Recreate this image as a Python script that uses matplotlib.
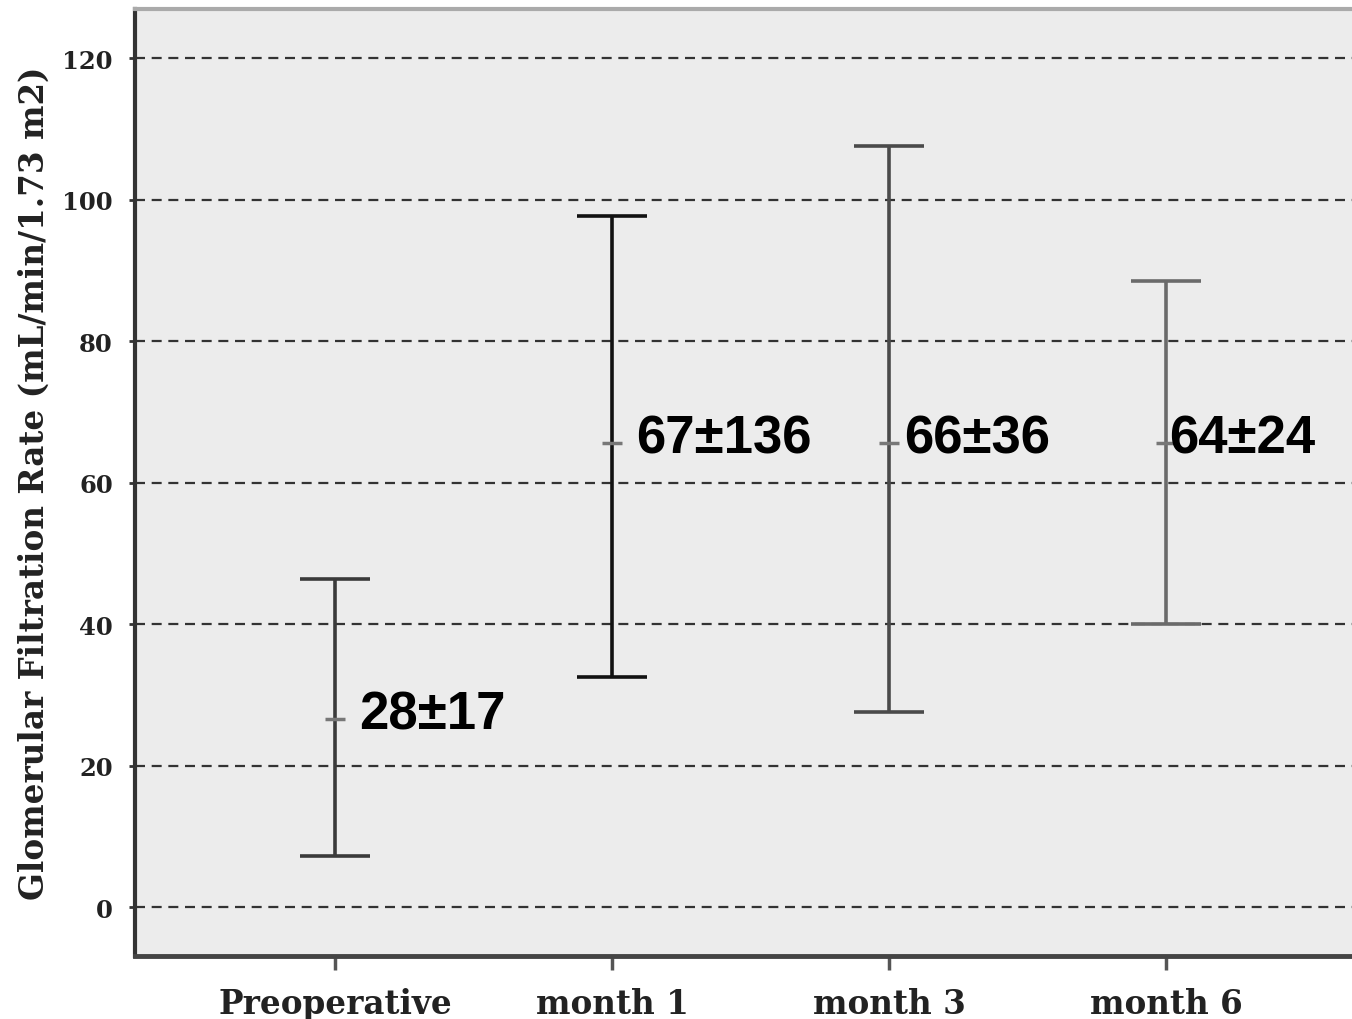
import matplotlib
matplotlib.use("Agg")
import matplotlib.pyplot as plt

# values
groups = ["Preoperative", "month 1", "month 3", "month 6"]
means = [26.6, 65.6, 65.6, 65.6]
lower = [7.2, 32.5, 27.6, 40.0]
upper = [46.4, 97.7, 107.5, 88.5]
labels = ["28\u00b117", "67\u00b1136", "66\u00b136", "64\u00b124"]
bar_colors = ["#3a3a3a", "#111111", "#4a4a4a", "#6a6a6a"]
label_dx = [17, 17, 11, 2]  # points right of the bar
yticks = [0, 20, 40, 60, 80, 100, 120]

fig = plt.figure(figsize=(13.52, 10.2), dpi=100)
ax = fig.add_axes([0.0999, 0.0618, 0.9001, 0.9282])
ax.set_facecolor("#ececec")

for i in range(len(groups)):
    ax.errorbar(i, means[i],
                yerr=[[means[i] - lower[i]], [upper[i] - means[i]]],
                fmt="none", ecolor=bar_colors[i], elinewidth=2.6,
                capsize=25, capthick=2.6, zorder=3)
    ax.plot(i, means[i], marker="_", markersize=14, mew=2.5,
            color="#777777", zorder=4)
    ax.annotate(labels[i], xy=(i, means[i]), xytext=(label_dx[i], 3),
                textcoords="offset points", ha="left", va="center",
                fontsize=38, fontweight="bold",
                family=["Liberation Sans", "DejaVu Sans"], color="black",
                zorder=5)

ax.set_xlim(-0.722, 3.671)
ax.set_ylim(-6.9, 126.9)
ax.set_xticks(range(len(groups)))
ax.set_xticklabels(groups)
ax.set_yticks(yticks)

ax.yaxis.grid(True, color="#333333", linewidth=1.6, linestyle=(0, (4.5, 3)))
ax.set_axisbelow(True)

for lab in ax.get_xticklabels():
    lab.set_fontfamily("DejaVu Serif")
    lab.set_fontweight("bold")
    lab.set_fontsize(23.5)
    lab.set_color("#222222")
for lab in ax.get_yticklabels():
    lab.set_fontfamily("DejaVu Serif")
    lab.set_fontweight("bold")
    lab.set_fontsize(17.5)
    lab.set_color("#222222")

ax.tick_params(axis="x", direction="out", length=10, width=2.5,
               color="#555555", pad=12)
ax.tick_params(axis="y", direction="out", length=4, width=2,
               color="#333333", pad=12)

ax.set_ylabel("Glomerular Filtration Rate (mL/min/1.73 m2)",
              fontfamily="DejaVu Serif", fontweight="bold",
              fontsize=23.5, color="#222222", labelpad=8)

ax.spines["right"].set_visible(False)
ax.spines["top"].set_color("#aaaaaa")
ax.spines["top"].set_linewidth(3)
ax.spines["left"].set_color("#333333")
ax.spines["left"].set_linewidth(3)
ax.spines["bottom"].set_color("#444444")
ax.spines["bottom"].set_linewidth(3.5)

fig.savefig("out.png", dpi=100)
